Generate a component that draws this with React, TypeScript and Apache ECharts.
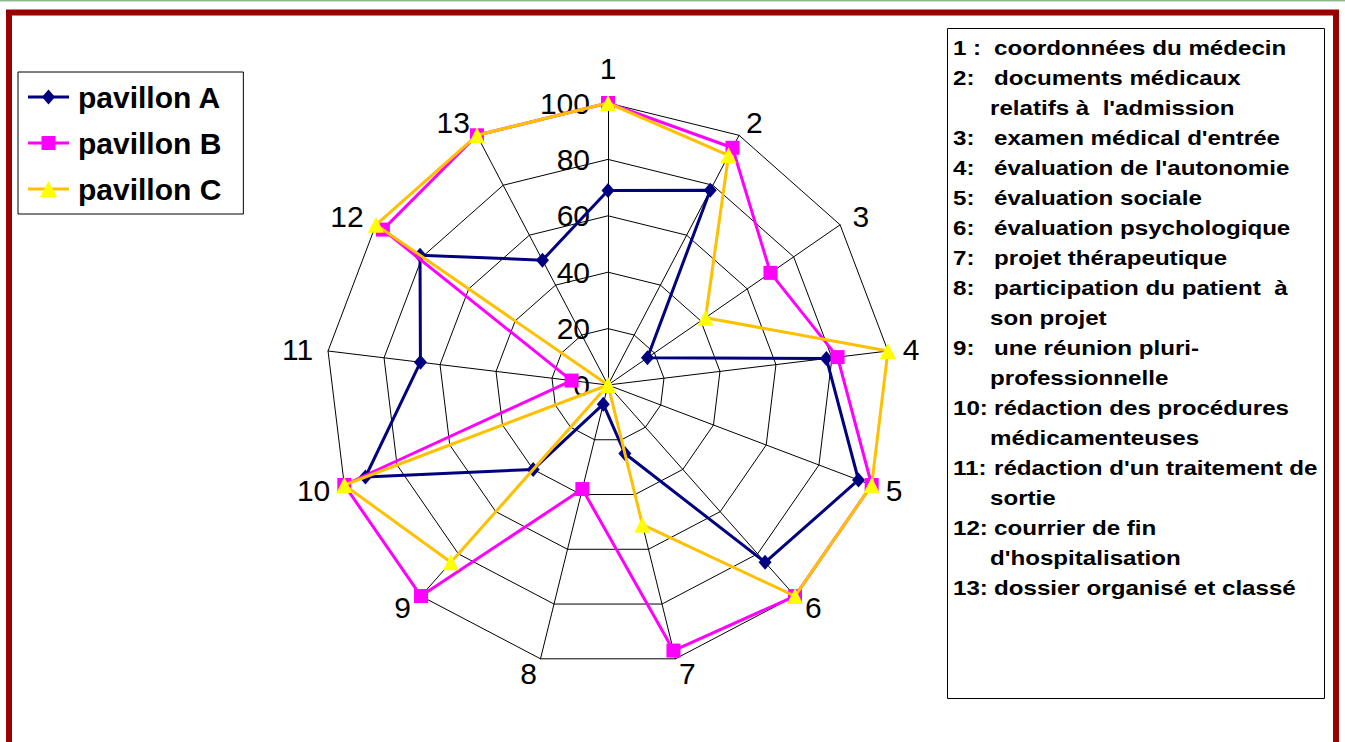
import React, { useEffect, useRef } from "react";
import * as echarts from "echarts";

// ---- data ----
const axisLabels = ["1", "2", "3", "4", "5", "6", "7", "8", "9", "10", "11", "12", "13"];
const seriesNames = ["pavillon A", "pavillon B", "pavillon C"];
const pavillonA = [69, 78, 17, 78, 95, 84, 25, 7, 40, 92, 67, 81, 50];
const pavillonB = [100, 95, 70, 82, 100, 100, 97, 38, 100, 100, 13, 97, 100];
const pavillonC = [100, 92, 42, 100, 100, 100, 51, 0, 84, 100, 0, 100, 100];
const scaleMin = 0;
const scaleMax = 100;
const scaleSplits = 5; // ticks 0,20,40,60,80,100

const noteNumbers = ["1 :", "2:", "", "3:", "4:", "5:", "6:", "7:", "8:", "", "9:", "", "10:", "", "11:", "", "12:", "", "13:"];
const noteTexts = [
  "coordonnées du médecin",
  "documents médicaux",
  "relatifs à  l'admission",
  "examen médical d'entrée",
  "évaluation de l'autonomie",
  "évaluation sociale",
  "évaluation psychologique",
  "projet thérapeutique",
  "participation du patient  à",
  "son projet",
  "une réunion pluri-",
  "professionnelle",
  "rédaction des procédures",
  "médicamenteuses",
  "rédaction d'un traitement de",
  "sortie",
  "courrier de fin",
  "d'hospitalisation",
  "dossier organisé et classé",
];

const FONT = '"Liberation Sans", Arial, Helvetica, sans-serif';

const seriesStyles = [
  { symbol: "diamond", size: [13, 15], marker: "#000080", line: "#000080" },
  { symbol: "rect", size: 14, marker: "#FF00FF", line: "#FF00FF" },
  { symbol: "triangle", size: 16, marker: "#FFFF00", line: "#FFC000" },
];

// legend icons drawn in a 41x16 box (corner moves keep the box size)
const ICON_BOX = "M0,0 M41,16 ";
const legendLineIcon = "path://" + ICON_BOX + "M0,6.5 H41 V9.5 H0 Z";
const legendMarkerIcons = [
  "path://" + ICON_BOX + "M20.5,0.5 L27,8 L20.5,15.5 L14,8 Z",
  "path://" + ICON_BOX + "M13.5,1 H27.5 V15 H13.5 Z",
  "path://" + ICON_BOX + "M20.5,0 L29,16 L12,16 Z",
];

export default function App() {
  const ref = useRef<HTMLDivElement>(null);
  useEffect(() => {
    if (!ref.current) return;
    const chart = echarts.init(ref.current, undefined, { renderer: "svg" });
    const n = axisLabels.length;
    // ECharts radar runs counter-clockwise; reorder so the numbering runs clockwise
    const order = [0];
    for (let i = n - 1; i >= 1; i--) order.push(i);
    const values = [pavillonA, pavillonB, pavillonC];

    const graphics: any[] = [
      { type: "line", shape: { x1: 0, y1: 0.75, x2: 1345, y2: 0.75 }, style: { stroke: "#8FB88F", lineWidth: 1.5 }, z: 10 },
      { type: "rect", shape: { x: 9, y: 12.5, width: 1327, height: 800 }, style: { fill: "none", stroke: "#990000", lineWidth: 6 }, z: 10 },
      { type: "rect", shape: { x: 947.5, y: 28.5, width: 377, height: 670 }, style: { fill: "#fff", stroke: "#000", lineWidth: 1 }, z: 5 },
    ];
    noteTexts.forEach((t, i) => {
      const y = 48 + i * 30.03;
      const num = noteNumbers[i];
      if (num) {
        graphics.push({
          type: "text", x: 953, y, scaleX: 1.15, z: 6,
          style: { text: num, fontSize: 21, fontWeight: "bold", fontFamily: FONT, fill: "#000", textAlign: "left", textVerticalAlign: "middle" },
        });
      }
      graphics.push({
        type: "text", x: num ? 994 : 990, y, scaleX: 1.15, z: 6,
        style: { text: t, fontSize: 21, fontWeight: "bold", fontFamily: FONT, fill: "#000", textAlign: "left", textVerticalAlign: "middle" },
      });
    });

    const legendBase = {
      orient: "vertical",
      left: 18,
      top: 72,
      padding: [10, 22, 10, 10],
      itemGap: 16,
      itemWidth: 41,
      itemHeight: 16,
      textStyle: { fontSize: 30, fontWeight: "bold", fontFamily: FONT, color: "#000", padding: [0, 0, 0, 4] },
    };

    chart.setOption({
      animation: false,
      backgroundColor: "#fff",
      legend: [
        {
          ...legendBase,
          z: 4,
          borderColor: "#000",
          borderWidth: 1,
          data: seriesNames.map((name, si) => ({ name, icon: legendLineIcon, itemStyle: { color: seriesStyles[si].line } })),
        },
        {
          ...legendBase,
          z: 5,
          formatter: () => " ",
          data: seriesNames.map((name, si) => ({ name, icon: legendMarkerIcons[si], itemStyle: { color: seriesStyles[si].marker } })),
        },
      ],
      radar: {
        center: [608, 385],
        radius: 282,
        startAngle: 90,
        shape: "polygon",
        splitNumber: scaleSplits,
        axisNameGap: 15,
        axisName: { color: "#000", fontSize: 30, fontFamily: FONT },
        indicator: order.map((k, j) => {
          const ind: any = { name: axisLabels[k], min: scaleMin, max: scaleMax };
          if (j === 0) {
            ind.axisLabel = { show: true };
            ind.nameGap = 20;
          }
          return ind;
        }),
        axisLine: { show: true, lineStyle: { color: "#000", width: 1 } },
        splitLine: { show: true, lineStyle: { color: "#000", width: 1 } },
        splitArea: { show: false },
        axisTick: { show: false },
        axisLabel: { show: false, color: "#000", fontSize: 30, fontFamily: FONT, margin: 18 },
      },
      series: seriesNames.map((name, si) => ({
        type: "radar",
        name,
        symbol: seriesStyles[si].symbol,
        symbolSize: seriesStyles[si].size,
        itemStyle: { color: seriesStyles[si].marker, borderWidth: 0 },
        lineStyle: { color: seriesStyles[si].line, width: 3 },
        z: 2 + si,
        data: [{ name, value: order.map((k) => values[si][k]) }],
      })),
      graphic: graphics,
    });
    return () => chart.dispose();
  }, []);
  return <div ref={ref} style={{ position: "absolute", left: 0, top: 0, width: 1345, height: 742 }} />;
}
